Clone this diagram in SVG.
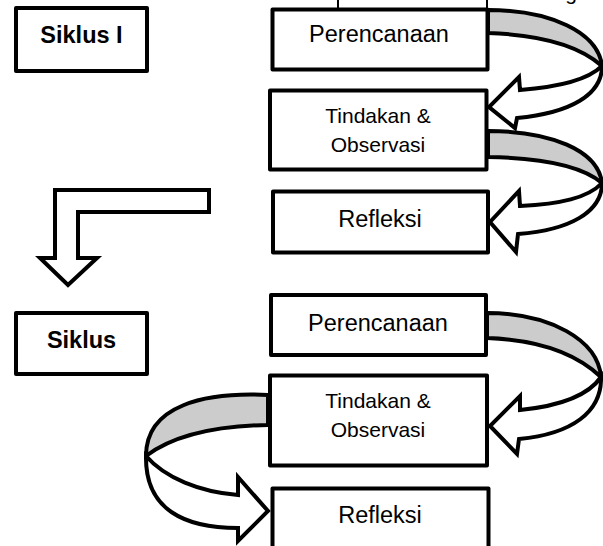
<svg xmlns="http://www.w3.org/2000/svg" width="603" height="546" viewBox="0 0 603 546">
<style>
.box{fill:#fff;stroke:#000;stroke-width:4;stroke-linejoin:round}
.t{font-family:"Liberation Sans",Arial,sans-serif;fill:#000;text-anchor:middle}
.big{font-size:23.5px}
.mid{font-size:21px}
.b{font-weight:bold}
.band{fill:#cccccc;stroke:#000;stroke-width:4;stroke-linejoin:round}
.arr{fill:#fff;stroke:#000;stroke-width:4;stroke-linejoin:miter;stroke-miterlimit:6}
</style>
<rect width="603" height="546" fill="#fff"/>
<g id="top-cut">
<line x1="338" y1="-2" x2="338" y2="9" stroke="#000" stroke-width="2"/>
<line x1="487" y1="-2" x2="487" y2="9" stroke="#000" stroke-width="2"/>
<text class="t mid" x="571" y="0">g</text>
</g>
<g id="siklus1">
<rect class="box" x="16" y="8" width="131" height="63"/>
<text class="t big b" x="81.5" y="43">Siklus I</text>
</g>
<g id="perencanaan1">
<rect class="box" x="272.5" y="9.5" width="215" height="60"/>
<text class="t big" x="379" y="42">Perencanaan</text>
</g>
<g id="tindakan1">
<rect class="box" x="270" y="90.5" width="216.5" height="79"/>
<text class="t mid" x="378" y="123">Tindakan &amp;</text>
<text class="t mid" x="378" y="152">Observasi</text>
</g>
<g id="refleksi1">
<rect class="box" x="273" y="191.5" width="215" height="61"/>
<text class="t big" x="380" y="227">Refleksi</text>
</g>
<g id="siklus2">
<rect class="box" x="16" y="313" width="131" height="61"/>
<text class="t big b" x="81.5" y="348">Siklus</text>
</g>
<g id="perencanaan2">
<rect class="box" x="271" y="295" width="215" height="60"/>
<text class="t big" x="378" y="331">Perencanaan</text>
</g>
<g id="tindakan2">
<rect class="box" x="270" y="375.5" width="217" height="90"/>
<text class="t mid" x="378" y="408">Tindakan &amp;</text>
<text class="t mid" x="378" y="437">Observasi</text>
</g>
<g id="refleksi2">
<rect class="box" x="272.5" y="488.5" width="216" height="80"/>
<text class="t big" x="380" y="523">Refleksi</text>
</g>
<g id="connectors">
<path class="arr" d="M55,190 L209,190 L209,212 L78,212 L78,258 L97,258 L68,285 L40,258 L55,258 Z"/>
<path class="band" d="M488,10 C550,10 598,32 602,66 C582,48 545,35 488,33 Z"/>
<path class="arr" d="M602,66 C588,80 560,87 520,90 L519,77 L489,107 L515,128 L517,118 C570,113 602,95 602,66 Z"/>
<path class="band" d="M488,131 C550,131 598,150 602,183 C582,166 545,158 488,157 Z"/>
<path class="arr" d="M602,183 C588,198 560,204 520,206 L519,191 L490,222 L516,252 L518,234 C570,230 602,212 602,183 Z"/>
<path class="band" d="M487,313 C550,313 598,340 601,377 C580,357 545,340 487,338 Z"/>
<path class="arr" d="M601,377 C588,396 560,406 520,410 L520,396 L490,426 L517,454 L519,439 C572,434 602,412 601,377 Z"/>
<path class="band" d="M268,395 C205,392 146,405 146,456 C170,438 210,426 268,425 Z"/>
<path class="arr" d="M146,456 C165,478 200,492 238,495 L238,477 L268,511 L238,541 L238,528 C185,528 145,510 146,456 Z"/>
</g>
</svg>
